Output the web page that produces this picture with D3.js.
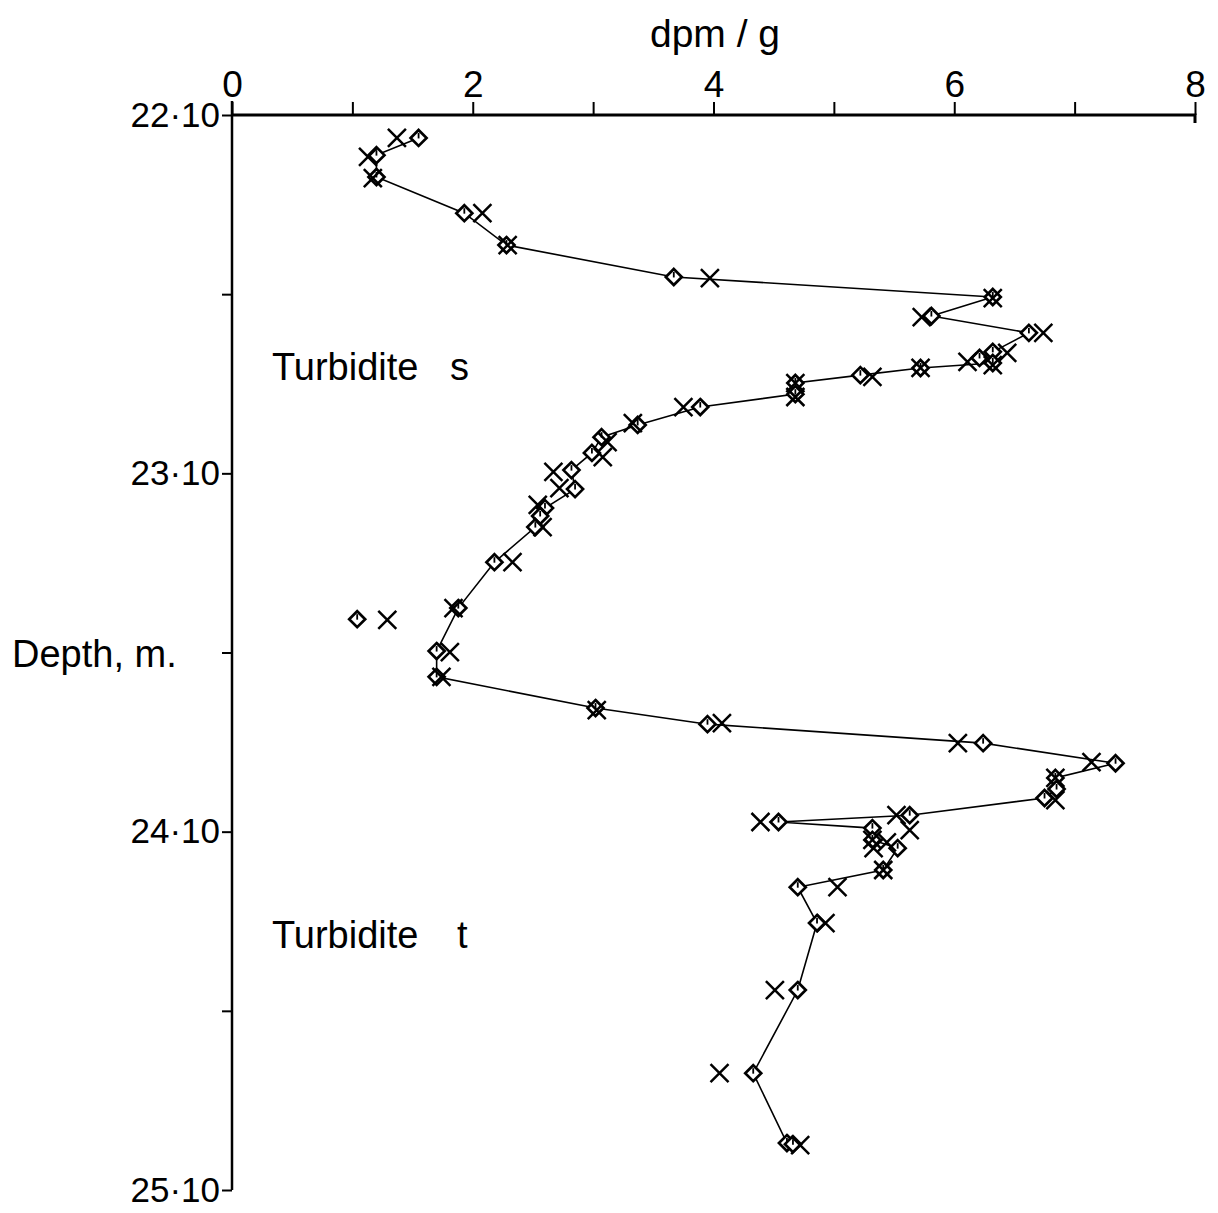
<!DOCTYPE html>
<html>
<head>
<meta charset="utf-8">
<script src="https://cdn.jsdelivr.net/npm/d3@7"></script>
<style>
  html, body { margin: 0; padding: 0; background: #fff; }
  svg { display: block; }
  text { font-family: "Liberation Sans", Arial, Helvetica, sans-serif; fill: #000; }
</style>
</head>
<body>
<script>
// Activity (dpm/g) against core depth (m) through turbidites s and t.
// Each measurement: [depth, value].

// Diamond series, joined by a line in depth order
const diamondSeries = [
  [22.164, 1.55], [22.212, 1.20], [22.273, 1.20], [22.374, 1.93], [22.463, 2.28],
  [22.552, 3.67], [22.608, 6.32], [22.661, 5.81], [22.708, 6.62], [22.761, 6.32],
  [22.778, 6.21], [22.792, 6.32], [22.806, 5.72], [22.826, 5.22], [22.848, 4.68],
  [22.879, 4.68], [22.915, 3.89], [22.965, 3.37], [22.999, 3.07], [23.043, 2.99],
  [23.091, 2.82], [23.144, 2.85], [23.197, 2.60], [23.219, 2.56], [23.250, 2.52],
  [23.348, 2.18], [23.476, 1.88], [23.596, 1.70], [23.668, 1.70], [23.755, 3.02],
  [23.800, 3.95], [23.853, 6.24], [23.909, 7.34], [23.950, 6.84], [23.981, 6.85],
  [24.006, 6.75], [24.054, 5.63], [24.073, 4.54], [24.090, 5.32], [24.123, 5.32],
  [24.146, 5.53], [24.207, 5.41], [24.255, 4.70], [24.355, 4.86], [24.542, 4.70],
  [24.774, 4.33], [24.969, 4.61], [24.972, 4.66]
];

// Diamond sample left off the joined profile
const diamondOutliers = [
  [23.507, 1.04]
];

// Cross series (plotted as points only)
const crossSeries = [
  [22.164, 1.37], [22.217, 1.13], [22.276, 1.17], [22.374, 2.08], [22.463, 2.29],
  [22.555, 3.97], [22.611, 6.32], [22.664, 5.73], [22.708, 6.74], [22.764, 6.44],
  [22.789, 6.11], [22.798, 6.32], [22.806, 5.72], [22.831, 5.32], [22.848, 4.68],
  [22.887, 4.68], [22.915, 3.75], [22.960, 3.33], [23.013, 3.12], [23.055, 3.08],
  [23.096, 2.67], [23.141, 2.72], [23.188, 2.54], [23.250, 2.58], [23.348, 2.33],
  [23.476, 1.84], [23.509, 1.29], [23.599, 1.81], [23.668, 1.74], [23.761, 3.03],
  [23.797, 4.07], [23.853, 6.03], [23.906, 7.14], [23.950, 6.84], [24.012, 6.84],
  [24.054, 5.52], [24.073, 4.39], [24.096, 5.63], [24.123, 5.32], [24.130, 5.44],
  [24.146, 5.33], [24.207, 5.41], [24.255, 5.03], [24.355, 4.93], [24.542, 4.51],
  [24.774, 4.05], [24.975, 4.72]
];

// Axis ticks and labels
const xTicks = [0, 1, 2, 3, 4, 5, 6, 7, 8];
const xLabelled = [0, 2, 4, 6, 8];
const yTicks = [22.10, 22.60, 23.10, 23.60, 24.10, 24.60, 25.10];
const yLabelled = [22.10, 23.10, 24.10, 25.10];

const xTitle = "dpm / g";
const yTitle = "Depth, m.";
const zoneLabels = [
  { depth: 22.80, text: "Turbidite", letter: "s" },
  { depth: 24.385, text: "Turbidite", letter: "t" }
];

const W = 1218, H = 1213;
const svg = d3.select("body").append("svg").attr("width", W).attr("height", H);

const x = d3.scaleLinear().domain([0, 8]).range([232, 1195]);
const y = d3.scaleLinear().domain([22.10, 25.10]).range([115, 1190]);

// Top value axis
const xAxis = d3.axisTop(x)
  .tickValues(xTicks)
  .tickSize(13)
  .tickPadding(5)
  .tickFormat(d => xLabelled.includes(d) ? String(d) : "");
const gx = svg.append("g").attr("transform", `translate(0,${y(22.10)})`).call(xAxis);
gx.select(".domain").attr("d", `M${x(0)},0H${x(8)}V8`).attr("stroke", "#000").attr("stroke-width", 3).attr("fill", "none");
gx.selectAll(".tick line").attr("stroke", "#000").attr("stroke-width", 2);
gx.selectAll(".tick text").style("font-size", "37px").attr("fill", "#000");

// Left depth axis
const fmtDepth = d => d3.format(".2f")(d).replace(".", "\u00B7");
const yAxis = d3.axisLeft(y)
  .tickValues(yTicks)
  .tickSize(10)
  .tickPadding(2)
  .tickFormat(d => yLabelled.some(v => Math.abs(v - d) < 1e-6) ? fmtDepth(d) : "");
const gy = svg.append("g").attr("transform", `translate(${x(0)},0)`).call(yAxis);
gy.select(".domain").attr("d", `M0,${y(22.10) - 14}V${y(25.10)}`).attr("stroke", "#000").attr("stroke-width", 2.5).attr("fill", "none");
gy.selectAll(".tick line").attr("stroke", "#000").attr("stroke-width", 2);
gy.selectAll(".tick text").style("font-size", "35px").attr("fill", "#000");

// Titles
svg.append("text").attr("x", 715).attr("y", 47).attr("text-anchor", "middle")
  .style("font-size", "39px").text(xTitle);
svg.append("text").attr("x", 12).attr("y", y(23.60) + 14).attr("text-anchor", "start")
  .style("font-size", "38px").text(yTitle);

// Zone labels
zoneLabels.forEach(z => {
  const t = svg.append("text").attr("x", 272).attr("y", y(z.depth) + 14)
    .style("font-size", "38px");
  t.append("tspan").text(z.text);
  t.append("tspan").attr("x", z.letter === "s" ? 450 : 457).text(z.letter);
});

// Profile line through the diamond samples
const line = d3.line().x(d => x(d[1])).y(d => y(d[0]));
svg.append("path").datum(diamondSeries)
  .attr("d", line).attr("fill", "none").attr("stroke", "#000").attr("stroke-width", 1.6);

// Diamond markers with a short inner tick
const diamondPath = "M0,-8L8,0L0,8L-8,0Z";
const diamonds = svg.append("g").selectAll("g")
  .data(diamondSeries.concat(diamondOutliers))
  .join("g")
  .attr("transform", d => `translate(${x(d[1])},${y(d[0])})`);
diamonds.append("path").attr("d", diamondPath)
  .attr("fill", "#fff").attr("stroke", "#000").attr("stroke-width", 2.7).attr("stroke-linejoin", "miter");
diamonds.append("path").attr("d", "M0,-5V0.5")
  .attr("stroke", "#000").attr("stroke-width", 1.8);

// Cross markers
svg.append("g").selectAll("path")
  .data(crossSeries)
  .join("path")
  .attr("transform", d => `translate(${x(d[1])},${y(d[0])})`)
  .attr("d", "M-9,-9L9,9M9,-9L-9,9")
  .attr("stroke", "#000").attr("stroke-width", 2.5).attr("fill", "none");
</script>
</body>
</html>
